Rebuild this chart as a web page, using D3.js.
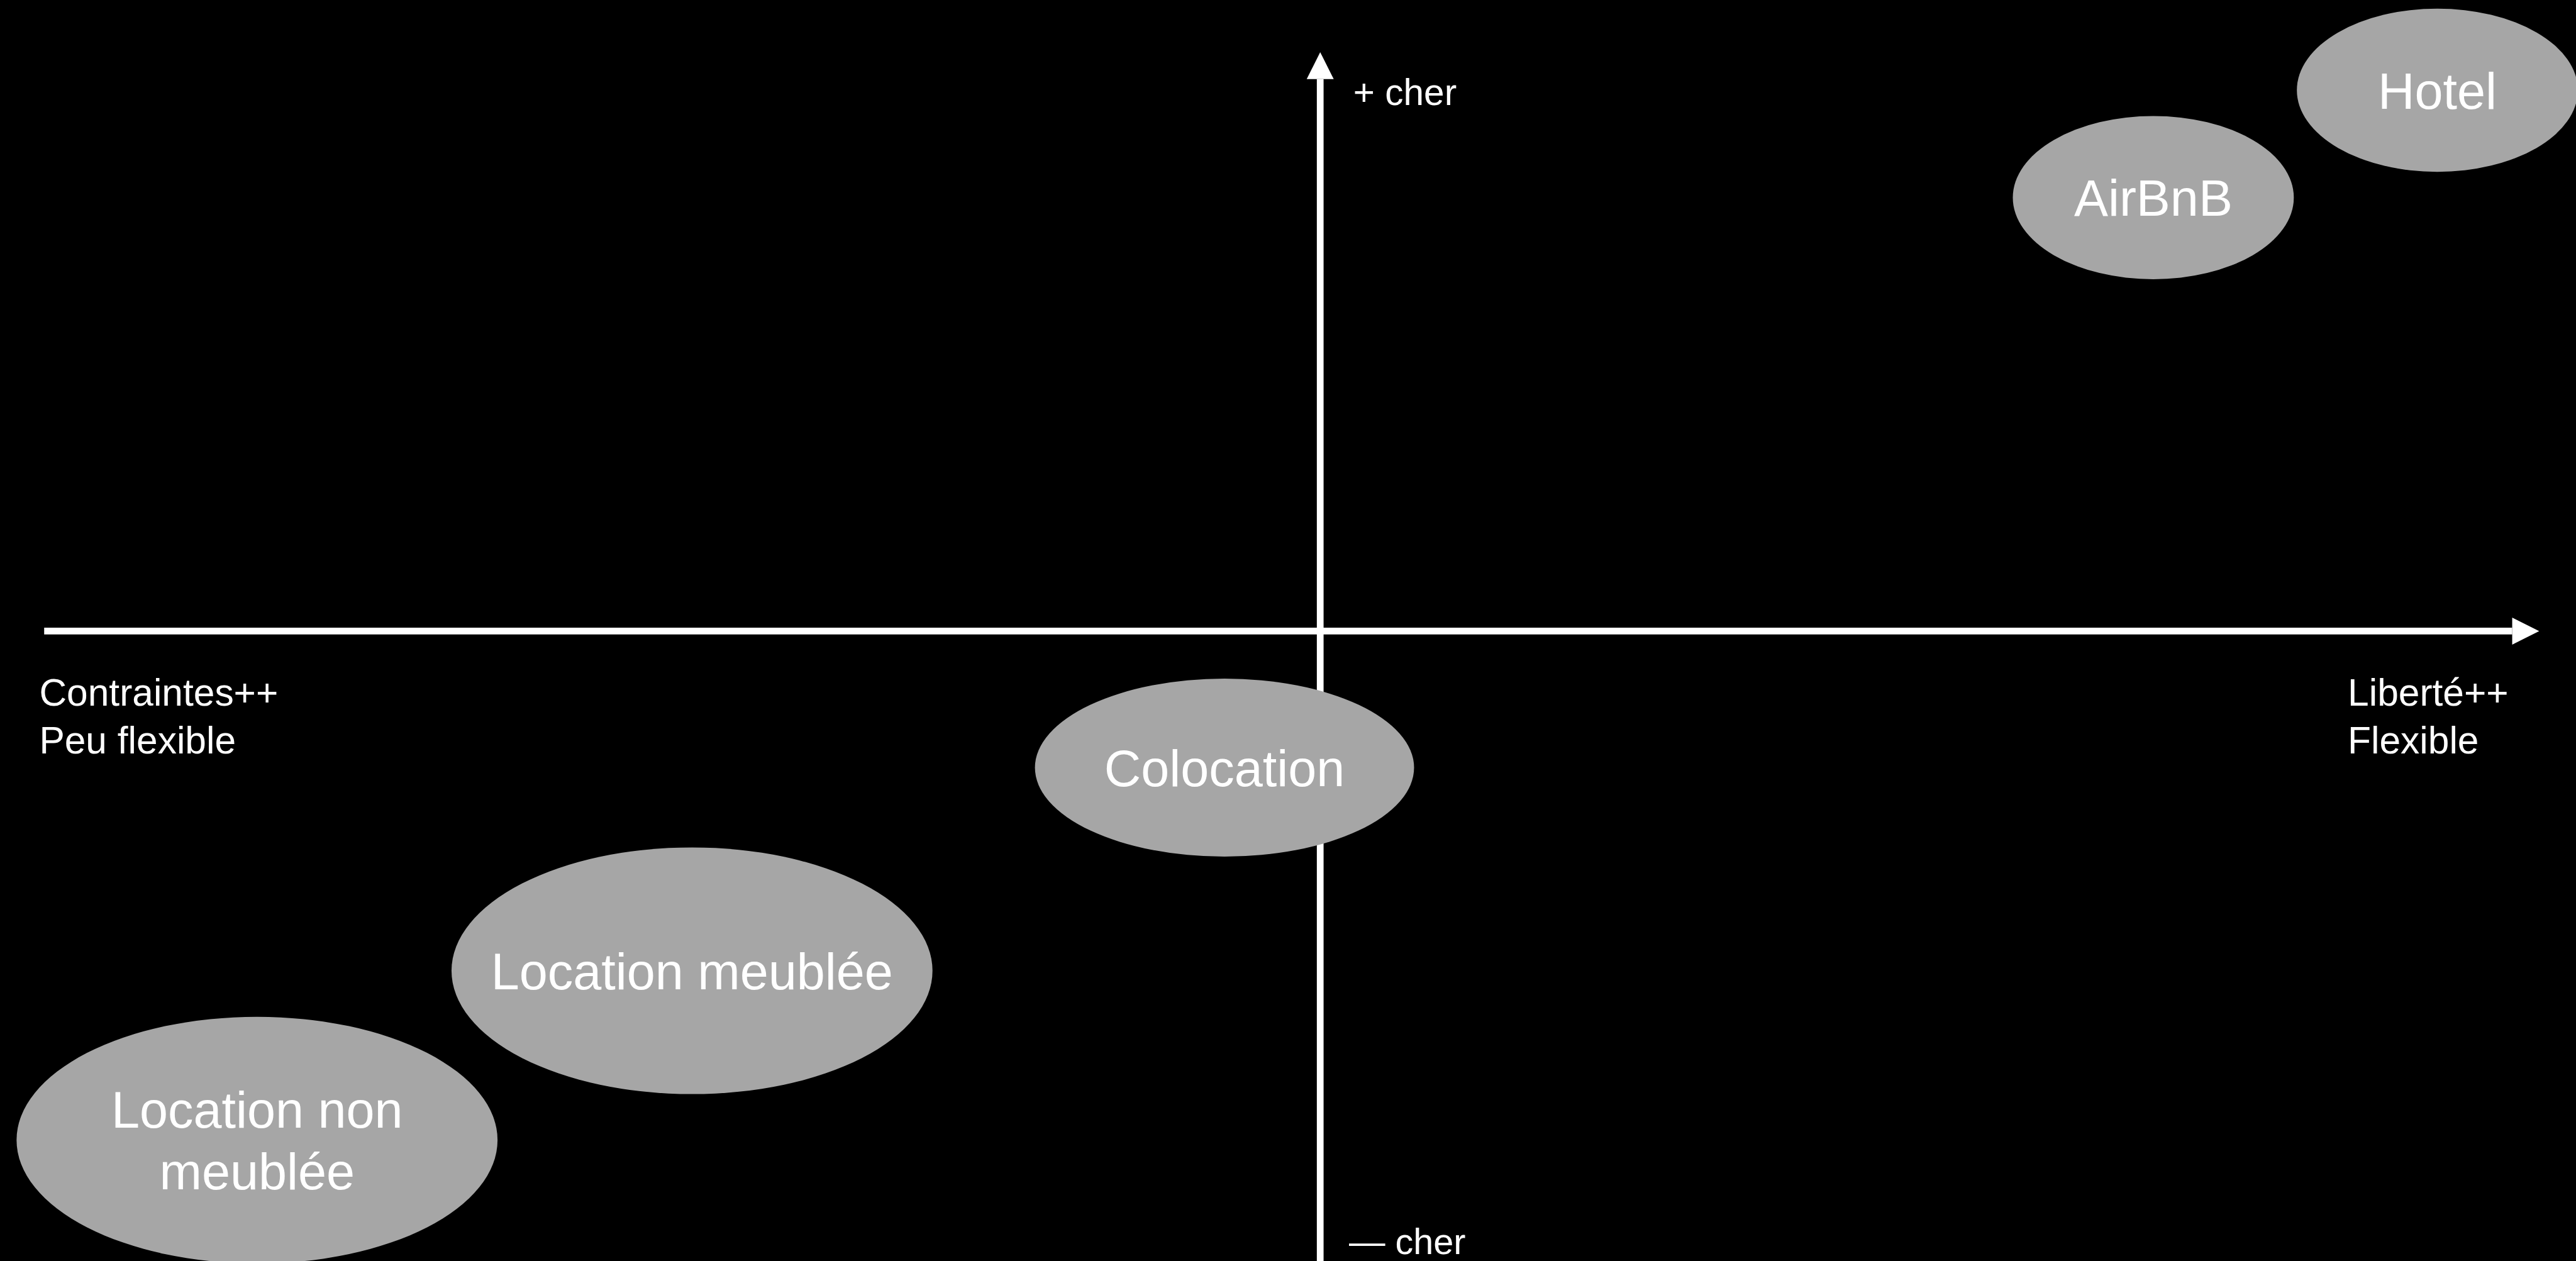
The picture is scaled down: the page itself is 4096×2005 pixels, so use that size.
<!DOCTYPE html>
<html>
<head>
<meta charset="utf-8">
<script src="https://cdn.jsdelivr.net/npm/d3@7"></script>
<style>
html, body { margin: 0; padding: 0; background: #000; overflow: hidden; }
svg { display: block; }
</style>
</head>
<body>
<svg id="chart"></svg>
<script>
// positioning map: flexibility (x) vs price (y), both in -10..10
var offers = ["Hotel", "AirBnB", "Colocation", "Location meublée", "Location non\nmeublée"];
var flexibility = [9.105, 6.79, -0.78, -5.12, -8.665];
var price = [8.815, 7.065, -2.225, -5.535, -8.295];
var flexSpread = [1.145, 1.145, 1.545, 1.96, 1.96];
var priceSpread = [1.33, 1.33, 1.45, 2.01, 2.01];

var xAxisExtent = [-10.4, 9.935];
var yAxisExtent = [-10.3, 9.435];

var leftLabel = ["Contraintes++", "Peu flexible"];
var rightLabel = ["Liberté++", "Flexible"];
var topLabel = "+ cher";
var bottomLabel = "— cher";

(function () {
    'use strict';
    // everything is laid out on the reference grid, then the viewBox shrinks it to the window
    const W = 4199, H = 2055;
    const bubbleColor = "#a6a6a6";
    const ink = "#ffffff";
    const font = "'Liberation Sans', Arial, Helvetica, sans-serif";

    const svg = d3.select("#chart")
        .attr("width", 4096)
        .attr("height", 2005)
        .attr("viewBox", "0 0 " + W + " " + H)
        .attr("preserveAspectRatio", "none");

    svg.append("rect").attr("width", W).attr("height", H).attr("fill", "#000");

    const x = d3.scaleLinear().domain([-10, 10]).range([152, 4152]);
    const y = d3.scaleLinear().domain([-10, 10]).range([2028.5, 28.5]);

    const stroke = 11, head = 44, half = 22;

    // axes
    const axes = svg.append("g").attr("class", "axes");
    axes.append("line")
        .attr("x1", x(xAxisExtent[0])).attr("x2", x(xAxisExtent[1]) - head)
        .attr("y1", y(0)).attr("y2", y(0))
        .attr("stroke", ink).attr("stroke-width", stroke);
    axes.append("path")
        .attr("d", "M" + x(xAxisExtent[1]) + "," + y(0) +
            "L" + (x(xAxisExtent[1]) - head) + "," + (y(0) - half) +
            "L" + (x(xAxisExtent[1]) - head) + "," + (y(0) + half) + "Z")
        .attr("fill", ink);

    axes.append("line")
        .attr("x1", x(0)).attr("x2", x(0))
        .attr("y1", y(yAxisExtent[0])).attr("y2", y(yAxisExtent[1]) + head)
        .attr("stroke", ink).attr("stroke-width", stroke);
    axes.append("path")
        .attr("d", "M" + x(0) + "," + y(yAxisExtent[1]) +
            "L" + (x(0) - half) + "," + (y(yAxisExtent[1]) + head) +
            "L" + (x(0) + half) + "," + (y(yAxisExtent[1]) + head) + "Z")
        .attr("fill", ink);

    // axis captions
    const captions = svg.append("g")
        .attr("font-family", font)
        .attr("fill", ink);

    captions.append("text")
        .attr("x", x(0) + 54).attr("y", 171)
        .attr("font-size", 60)
        .text(topLabel);
    captions.append("text")
        .attr("x", x(0) + 47).attr("y", 2044)
        .attr("font-size", 59)
        .text(bottomLabel);

    function block(lines, x0) {
        captions.append("text")
            .attr("font-size", 62)
            .selectAll("tspan")
            .data(lines)
            .enter().append("tspan")
            .attr("x", x0)
            .attr("y", function (d, i) { return y(0) + 121.5 + i * 78; })
            .text(function (d) { return d; });
    }
    block(leftLabel, x(xAxisExtent[0]) - 8);
    block(rightLabel, 3827);

    // bubbles
    const data = offers.map(function (name, i) {
        return {
            lines: name.split("\n"),
            fx: flexibility[i],
            py: price[i],
            rx: x(flexSpread[i]) - x(0),
            ry: y(0) - y(priceSpread[i])
        };
    });

    const g = svg.selectAll(".offer")
        .data(data)
        .enter().append("g")
        .attr("class", "offer")
        .attr("transform", function (d) { return "translate(" + x(d.fx) + "," + y(d.py) + ")"; });

    g.append("ellipse")
        .attr("rx", function (d) { return d.rx; })
        .attr("ry", function (d) { return d.ry; })
        .attr("fill", bubbleColor);

    g.append("text")
        .attr("font-family", font)
        .attr("font-size", 83)
        .attr("fill", ink)
        .attr("text-anchor", "middle")
        .selectAll("tspan")
        .data(function (d) {
            return d.lines.map(function (t, i) { return { t: t, i: i, n: d.lines.length }; });
        })
        .enter().append("tspan")
        .attr("x", 0)
        .attr("y", function (d) { return 30 + (d.i - (d.n - 1) / 2) * 101; })
        .text(function (d) { return d.t; });
})();
</script>
</body>
</html>
